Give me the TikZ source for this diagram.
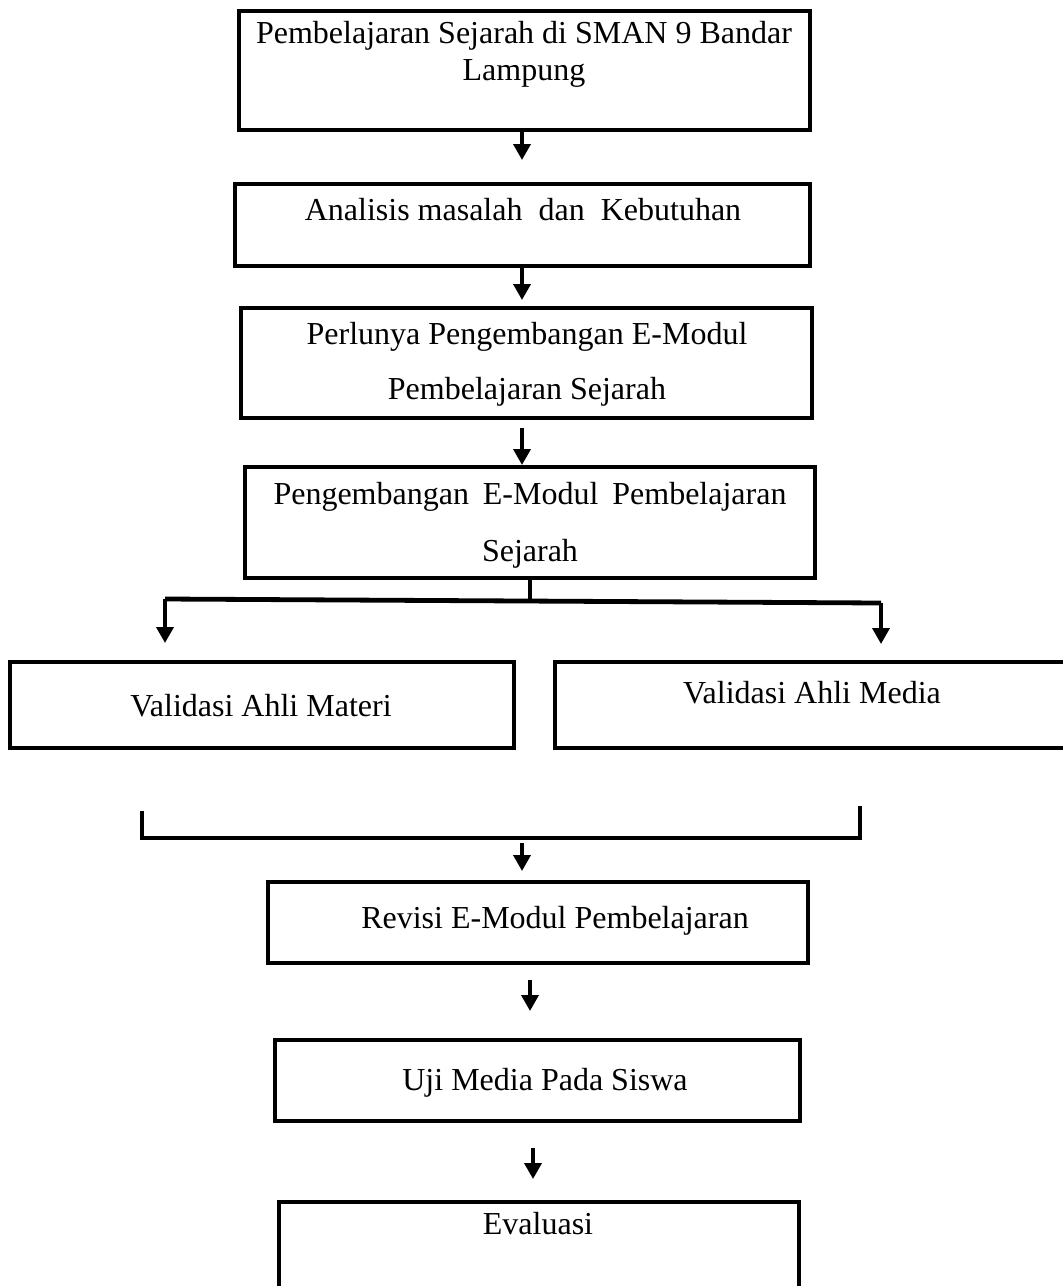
\documentclass[tikz,border=0pt]{standalone}
\usepackage{fontspec}
\setmainfont{Liberation Serif}
\usetikzlibrary{arrows.meta,positioning}
\tikzset{%
	box/.style      = {draw, rectangle, line width=2pt, inner sep=0pt}, % Step box
	txt/.style      = {inner sep=0pt, align=center, font=\fontsize{16}{18.5}\selectfont}, % Box text
	arrow/.style    = {line width=1.8pt, -{Triangle[length=8pt,width=8.5pt]}},
	branch/.style   = {line width=2.4pt},
	waypoint/.style = {coordinate},
}

\begin{document}
\begin{tikzpicture}[x=0.5pt,y=-0.5pt]
	\useasboundingbox (0,0) rectangle (1063,1286);
	% boxes
	\node [box,minimum width=285.5pt,minimum height=59.5pt] (sman) at (524.5,70.5) {};
	\node [box,minimum width=287.5pt,minimum height=41pt] (analisis) at (522.5,225) {};
	\node [box,minimum width=285.5pt,minimum height=55pt] (perlu) at (526.5,363) {};
	\node [box,minimum width=285pt,minimum height=55.5pt] (kembang) at (530,522.5) {};
	\node [box,minimum width=252pt,minimum height=43pt] (materi) at (262,705) {};
	\node [box,minimum width=257.5pt,minimum height=43pt] (media) at (812.5,705) {};
	\node [box,minimum width=270pt,minimum height=40.5pt] (revisi) at (538,922.5) {};
	\node [box,minimum width=262.5pt,minimum height=40.5pt] (uji) at (537.5,1080.5) {};
	\node [box,minimum width=260pt,minimum height=49pt] (evaluasi) at (539,1251) {};
	
	% texts
	\node [txt] (tsman) at (524,54) {Pembelajaran Sejarah di SMAN 9 Bandar\\Lampung};
	\node [txt] (tanalisis) at (523,210) {Analisis masalah\ \ dan\ \ Kebutuhan};
	\node [txt] (tperlu) at (527,364) {Perlunya Pengembangan E-Modul\\[9pt]Pembelajaran Sejarah};
	\node [txt] (tkembang) at (530,525) {\makebox[256.5pt][s]{Pengembangan E-Modul Pembelajaran}\\[10pt]Sejarah};
	\node [txt] (tmateri) at (261,706) {Validasi Ahli Materi};
	\node [txt] (tmedia) at (812,693) {Validasi Ahli Media};
	\node [txt] (trevisi) at (555,921) {Revisi E-Modul Pembelajaran};
	\node [txt] (tuji) at (545,1083) {Uji Media Pada Siswa};
	\node [txt] (tevaluasi) at (538,1224) {Evaluasi};
	
	% waypoints
	\node [waypoint] (a1) at (522,160) {};
	\node [waypoint] (a2) at (522,300) {};
	\node [waypoint] (a3s) at (522,428) {};
	\node [waypoint] (split) at (530,601) {};
	\node [waypoint] (splitl) at (165,599) {};
	\node [waypoint] (splitr) at (881,603) {};
	\node [waypoint] (endl) at (165,643) {};
	\node [waypoint] (endr) at (881,644) {};
	\node [waypoint] (joinl) at (142,811) {};
	\node [waypoint] (joinr) at (860,806) {};
	\node [waypoint] (join) at (522,838) {};
	\node [waypoint] (endj) at (522,871) {};
	\node [waypoint] (a6s) at (530,980) {};
	\node [waypoint] (a6e) at (530,1011) {};
	\node [waypoint] (a7s) at (533,1148) {};
	\node [waypoint] (a7e) at (533,1179) {};
	
	\draw[arrow] (a1 |- sman.south) -- (a1);
	\draw[arrow] (a2 |- analisis.south) -- (a2);
	\draw[arrow] (a3s) -- (a3s |- kembang.north);
	\draw[branch] (kembang.south) -- (split);
	\draw[branch] (splitl) -- (splitr);
	\draw[arrow] (splitl) -- (endl);
	\draw[arrow] (splitr) -- (endr);
	\draw[branch] (joinl) |- (join) -| (joinr);
	\draw[arrow] ([yshift=-2.5pt]join) -- (endj);
	\draw[arrow] (a6s) -- (a6e);
	\draw[arrow] (a7s) -- (a7e);
\end{tikzpicture}
\end{document}
